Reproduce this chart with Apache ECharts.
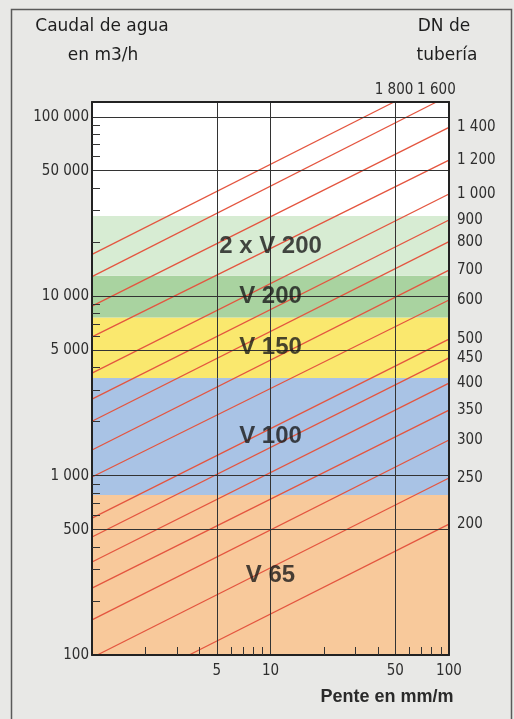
<!DOCTYPE html>
<html>
<head>
<meta charset="utf-8">
<script src="https://cdn.jsdelivr.net/npm/echarts@6/dist/echarts.min.js"></script>
<style>
  html, body { margin: 0; padding: 0; background: #e8e8e6; }
  #chart { width: 514px; height: 719px; }
</style>
</head>
<body>
<div id="chart"></div>
<script>
// Pipe sizing chart: flow (m3/h) against slope (mm/m), both on log scales.
const slopeRange = [1, 100];
const flowRange = [100, 121000];

const slopeTickValues = [5, 10, 50, 100];
const slopeTickLabels = ['5', '10', '50', '100'];
const slopeMinorTicks = [2, 3, 4, 6, 7, 8, 9, 20, 30, 40, 60, 70, 80, 90];
const slopeGridValues = [5, 10, 50];

const flowTickValues = [100, 500, 1000, 5000, 10000, 50000, 100000];
const flowTickLabels = ['100', '500', '1 000', '5 000', '10 000', '50 000', '100 000'];
const flowMinorTicks = [200, 300, 400, 600, 700, 800, 900,
  2000, 3000, 4000, 6000, 7000, 8000, 9000,
  20000, 30000, 40000, 60000, 70000, 80000, 90000];
const flowGridValues = [500, 1000, 5000, 10000, 50000, 100000];

// Unit ranges: name, lower and upper flow limit, fill colour
const bandNames = ['V 65', 'V 100', 'V 150', 'V 200', '2 x V 200'];
const bandLow = [100, 780, 3500, 7600, 13000];
const bandHigh = [780, 3500, 7600, 13000, 28000];
const bandColors = ['#f8c99b', '#a9c3e5', '#fae86e', '#a9d3a0', '#d7ecd3'];
const bandLabelSlope = 10;

// Pipe diameters (DN): first and last visible point of each line
const dnLabels = ['200', '250', '300', '350', '400', '450', '500', '600',
  '700', '800', '900', '1 000', '1 200', '1 400', '1 600', '1 800'];
const dnStartSlope = [3.5, 1.07, 1, 1, 1, 1, 1, 1, 1, 1, 1, 1, 1, 1, 1, 1];
const dnStartFlow = [100, 100, 157, 236, 330, 455, 580, 982,
  1390, 2010, 2670, 3730, 5940, 8810, 12850, 17100];
const dnEndSlope = [100, 100, 100, 100, 100, 100, 100, 100,
  100, 100, 100, 100, 100, 100, 85, 49.2];
const dnEndFlow = [537, 970, 1580, 2320, 3280, 4530, 5770, 9530,
  13990, 20140, 26600, 37150, 57400, 87300, 121000, 121000];

const lg = Math.log10;
const narrowFont = "'Liberation Sans Narrow', 'Arial Narrow', 'DejaVu Sans Condensed', sans-serif";
const tickText = { fontFamily: narrowFont, fontSize: 15, color: '#2e2e2e' };

function labelFor(values, labels) {
  return function (v) {
    const i = values.findIndex(t => Math.abs(lg(t) - v) < 1e-6);
    return i >= 0 ? labels[i] : '';
  };
}

const borderLine = { show: true, onZero: false, lineStyle: { color: '#222', width: 2 } };
const minorTick = { show: true, inside: true, length: 8, lineStyle: { color: '#333', width: 1 } };

const series = [];

// colour bands
series.push({
  type: 'line', data: [], z: 1, silent: true,
  markArea: {
    silent: true,
    label: { show: false },
    data: bandNames.map((n, i) => [
      { yAxis: lg(bandLow[i]), itemStyle: { color: bandColors[i] } },
      { yAxis: lg(bandHigh[i]) }
    ])
  }
});

// grid lines
series.push({
  type: 'line', data: [], z: 2, silent: true,
  markLine: {
    silent: true, symbol: ['none', 'none'], animation: false,
    label: { show: false },
    lineStyle: { color: '#333', width: 1, type: 'solid' },
    emphasis: { disabled: true },
    data: slopeGridValues.map(v => ({ xAxis: lg(v) }))
      .concat(flowGridValues.map(v => ({ yAxis: lg(v) })))
  }
});

// DN lines
dnLabels.forEach((dn, i) => {
  const topExit = dnEndSlope[i] < slopeRange[1];
  series.push({
    type: 'line', name: 'DN ' + dn, z: 3, silent: true,
    symbol: 'none',
    lineStyle: { color: '#e4553f', width: 1.3 },
    data: [[lg(dnStartSlope[i]), lg(dnStartFlow[i])], [lg(dnEndSlope[i]), lg(dnEndFlow[i])]],
    endLabel: Object.assign({
      show: true,
      formatter: () => dn,
      fontFamily: narrowFont, fontSize: 15, color: '#2e2e2e'
    }, topExit
      ? { distance: 0, align: 'center', verticalAlign: 'bottom', padding: [0, 0, 4, 0] }
      : { distance: 8 })
  });
});

// unit names
series.push({
  type: 'scatter', z: 5, silent: true, symbolSize: 0,
  itemStyle: { color: 'transparent' },
  data: bandNames.map((n, i) => ({
    name: n,
    value: [lg(bandLabelSlope), (lg(bandLow[i]) + lg(bandHigh[i])) / 2]
  })),
  label: {
    show: true, position: 'inside', formatter: '{b}',
    fontFamily: "'Liberation Sans', Arial, sans-serif",
    fontSize: 24, fontWeight: 'bold', color: '#1a1a1a',
    textBorderWidth: 0, textBorderColor: 'transparent'
  }
});

const chart = echarts.init(document.getElementById('chart'), null, { renderer: 'canvas' });
chart.setOption({
  animation: false,
  backgroundColor: '#e8e8e6',
  grid: {
    left: 92, right: 65, top: 102, bottom: 64,
    show: true, backgroundColor: '#ffffff', borderWidth: 0,
    outerBoundsMode: 'none'
  },
  xAxis: [{
    type: 'value', position: 'bottom', z: 6,
    min: lg(slopeRange[0]), max: lg(slopeRange[1]),
    axisLine: borderLine,
    axisTick: Object.assign({ customValues: slopeMinorTicks.map(lg) }, minorTick),
    axisLabel: Object.assign({
      customValues: slopeTickValues.map(lg),
      formatter: labelFor(slopeTickValues, slopeTickLabels),
      margin: 9, showMinLabel: true, showMaxLabel: true
    }, tickText),
    splitLine: { show: false }
  }, {
    type: 'value', position: 'top', z: 6,
    min: lg(slopeRange[0]), max: lg(slopeRange[1]),
    axisLine: borderLine, axisTick: { show: false }, axisLabel: { show: false },
    splitLine: { show: false }
  }],
  yAxis: [{
    type: 'value', position: 'left', z: 6,
    min: lg(flowRange[0]), max: lg(flowRange[1]),
    axisLine: borderLine,
    axisTick: Object.assign({ customValues: flowMinorTicks.map(lg) }, minorTick),
    axisLabel: Object.assign({
      customValues: flowTickValues.map(lg),
      formatter: labelFor(flowTickValues, flowTickLabels),
      margin: 3, showMinLabel: true, showMaxLabel: true
    }, tickText),
    splitLine: { show: false }
  }, {
    type: 'value', position: 'right', z: 6,
    min: lg(flowRange[0]), max: lg(flowRange[1]),
    axisLine: borderLine, axisTick: { show: false }, axisLabel: { show: false },
    splitLine: { show: false }
  }],
  graphic: [
    {
      type: 'rect', silent: true, z: 0,
      shape: { x: 11.5, y: 9.5, width: 500, height: 760 },
      style: { fill: 'none', stroke: '#5a5a5a', lineWidth: 1.5 }
    },
    {
      type: 'text', x: 102, y: 27, silent: true,
      style: { text: 'Caudal de agua', fontFamily: "'DejaVu Sans', sans-serif", fontSize: 17,
        fill: '#1e1e1e', align: 'center', verticalAlign: 'middle' }
    },
    {
      type: 'text', x: 103, y: 56, silent: true,
      style: { text: 'en m3/h', fontFamily: "'DejaVu Sans', sans-serif", fontSize: 17,
        fill: '#1e1e1e', align: 'center', verticalAlign: 'middle' }
    },
    {
      type: 'text', x: 444, y: 27, silent: true,
      style: { text: 'DN de', fontFamily: "'DejaVu Sans', sans-serif", fontSize: 17,
        fill: '#1e1e1e', align: 'center', verticalAlign: 'middle' }
    },
    {
      type: 'text', x: 447, y: 56, silent: true,
      style: { text: 'tubería', fontFamily: "'DejaVu Sans', sans-serif", fontSize: 17,
        fill: '#1e1e1e', align: 'center', verticalAlign: 'middle' }
    },
    {
      type: 'text', x: 387, y: 697, silent: true,
      style: { text: 'Pente en mm/m', fontFamily: "'Liberation Sans', Arial, sans-serif",
        fontSize: 18, fontWeight: 'bold', fill: '#2a2a2a', align: 'center', verticalAlign: 'middle' }
    }
  ],
  series: series
});
</script>
</body>
</html>
